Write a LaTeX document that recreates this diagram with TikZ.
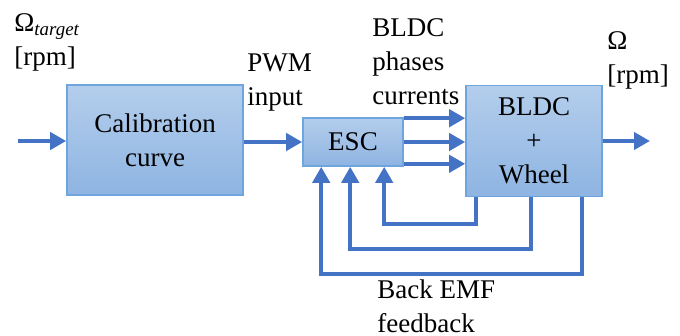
\documentclass[tikz,border=0pt]{standalone}
\usepackage{fontspec}
\newfontfamily\tms{Liberation Serif}
\usetikzlibrary{arrows.meta,calc}
\definecolor{arrowblue}{HTML}{4472C4}
\definecolor{boxtop}{HTML}{B4CEEC}
\definecolor{boxbot}{HTML}{8EB4E2}
\definecolor{boxline}{HTML}{6FA5DE}
\tikzset{
  blk/.style={draw=boxline, line width=0.8pt, top color=boxtop, bottom color=boxbot,
    align=center, inner sep=0pt, font=\fontsize{13.5}{17}\selectfont\tms},
  arr/.style={draw=arrowblue, line width=2pt, -{Triangle[length=8pt,width=8.5pt]}},
  lbl/.style={anchor=north west, inner sep=0pt, align=left, font=\fontsize{13.5}{17}\selectfont\tms}
}
\begin{document}
\begin{tikzpicture}[x=0.5pt,y=-0.5pt]
\useasboundingbox (0,0) rectangle (680,336);
\node[blk, minimum width=88pt, minimum height=55pt] (cal) at (155,140) {\tms Calibration\\\tms curve};
\node[blk, minimum width=50pt, minimum height=24pt] (esc) at (353,142) {\tms ESC};
\node[blk, minimum width=68pt, minimum height=55.5pt] (bldc) at (534,141) {\tms BLDC\\\tms +\\\tms Wheel};
\coordinate (in) at (18,141);
\coordinate (out) at (650,141);
\draw[arr] (in) -- (cal.west |- in);
\draw[arr] (cal.east |- esc.west) -- (esc.west);
\draw[arr] ([yshift=-0.5pt]esc.north east) -- ([yshift=-0.5pt]esc.north east -| bldc.west);
\draw[arr] (esc.east) -- (esc.east -| bldc.west);
\draw[arr] ([yshift=1.5pt]esc.south east) -- ([yshift=1.5pt]esc.south east -| bldc.west);
\draw[arr] (bldc.east |- out) -- (out);
\draw[arr] ([xshift=5.5pt]bldc.south west) -- ++(0,27) -| ([xshift=41pt]esc.south west);
\draw[arr] ([xshift=33pt]bldc.south west) -- ++(0,52) -| ([xshift=24pt]esc.south west);
\draw[arr] ([xshift=58.5pt]bldc.south west) -- ++(0,77) -| ([xshift=9.5pt]esc.south west);
\node[lbl] (tgt) at (14,13) {\tms Ω\textsubscript{\textit{target}}\\\tms{}[rpm]};
\node[lbl] (pwm) at (247,53) {\tms PWM\\\tms input};
\node[lbl] (ph) at (372,18) {\tms BLDC\\\tms phases\\\tms currents};
\node[lbl] (om) at (607,31) {\tms Ω\\\tms{}[rpm]};
\node[lbl] (emf) at (377,279) {\tms Back EMF\\\tms feedback};
\end{tikzpicture}
\end{document}
